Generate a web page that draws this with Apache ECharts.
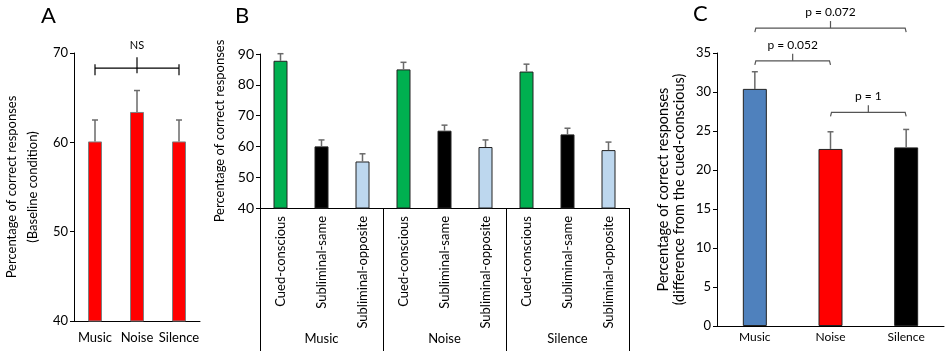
<!DOCTYPE html>
<html>
<head>
<meta charset="utf-8">
<script src="https://cdn.jsdelivr.net/npm/echarts@6/dist/echarts.min.js"></script>
<style>html,body{margin:0;padding:0;background:#fff;}#c{width:946px;height:351px;}</style>
</head>
<body>
<div id="c"></div>
<script>
// ---- Panel A data ----
const aCats = ['Music', 'Noise', 'Silence'];
const aValues = [60.1, 63.4, 60.1];
const aErrors = [2.4, 2.4, 2.4];
const aTicks = [40, 50, 60, 70];
const aBracketLevel = 68.3;
const aBracketText = 'NS';

// ---- Panel B data ----
const bConditions = ['Cued-conscious', 'Subliminal-same', 'Subliminal-opposite'];
const bGroups = ['Music', 'Noise', 'Silence'];
const bValues = [87.8, 60.0, 55.1, 85.0, 65.1, 59.8, 84.3, 63.9, 58.8];
const bErrors = [2.3, 2.1, 2.5, 2.3, 1.8, 2.3, 2.4, 2.0, 2.6];
const bTicks = [40, 50, 60, 70, 80, 90];

// ---- Panel C data ----
const cCats = ['Music', 'Noise', 'Silence'];
const cValues = [30.4, 22.7, 22.9];
const cErrors = [2.2, 2.2, 2.3];
const cTicks = [0, 5, 10, 15, 20, 25, 30, 35];
const bracketFrom = [0, 1, 0];
const bracketTo = [1, 2, 2];
const bracketLevel = [34.0, 27.4, 38.2];
const bracketText = ['p = 0.052', 'p = 1', 'p = 0.072'];

// ---- styles ----
const FONT = 'Lato, "Open Sans", sans-serif';
const bColors = ['#00B050', '#000000', '#BDD7EE'];
const cColors = ['#4F81BD', '#FF0000', '#000000'];
const ERR = '#6a6a6a';

const bCats = [];
bGroups.forEach(() => bConditions.forEach(c => bCats.push(c)));

function errRender(params, api) {
  const x = api.value(0), v = api.value(1), e = api.value(2);
  const p0 = api.coord([x, v]);
  const p1 = api.coord([x, v + e]);
  return {
    type: 'group',
    children: [
      { type: 'line', shape: { x1: p0[0], y1: p0[1], x2: p1[0], y2: p1[1] }, style: { stroke: ERR, lineWidth: 1.5 } },
      { type: 'line', shape: { x1: p1[0] - 3, y1: p1[1], x2: p1[0] + 3, y2: p1[1] }, style: { stroke: ERR, lineWidth: 1.5 } }
    ]
  };
}

function yAxisCommon(min, max, interval, gridIndex, fontSize) {
  return {
    type: 'value', gridIndex, min, max, interval,
    axisLine: { show: true, lineStyle: { color: '#000', width: 1 } },
    axisTick: { show: true, length: 4, lineStyle: { color: '#000' } },
    splitLine: { show: false },
    axisLabel: { color: '#000', fontSize, fontFamily: FONT, margin: 6 },
    nameLocation: 'middle', nameRotate: 90,
    nameTextStyle: { color: '#000', fontFamily: FONT }
  };
}

const chart = echarts.init(document.getElementById('c'), null, { renderer: 'canvas' });
const titleStyle = { fontFamily: FONT, fontSize: 22, fontWeight: 'normal', color: '#000' };

const option = {
  animation: false,
  backgroundColor: '#fff',
  title: [
    { text: 'A', left: 41, top: 5, padding: 0, textStyle: titleStyle },
    { text: 'B', left: 235, top: 5, padding: 0, textStyle: titleStyle },
    { text: 'C', left: 693, top: 3, padding: 0, textStyle: titleStyle }
  ],
  grid: [
    { left: 67, top: 53, width: 133, height: 268 },
    { left: 260, top: 54, width: 369, height: 154 },
    { left: 717, top: 53, width: 227, height: 273 }
  ],
  xAxis: [
    {
      type: 'category', gridIndex: 0, data: aCats,
      axisLine: { show: true, lineStyle: { color: '#000' } },
      axisTick: { show: false },
      axisLabel: { color: '#000', fontSize: 13, fontFamily: FONT, margin: 10, interval: 0, hideOverlap: false }
    },
    {
      type: 'category', gridIndex: 1, data: bCats,
      axisLine: { show: true, lineStyle: { color: '#000' } },
      axisTick: { show: false },
      axisLabel: { color: '#000', fontSize: 13, fontFamily: FONT, rotate: 90, margin: 8, interval: 0 }
    },
    {
      type: 'category', gridIndex: 1, data: bGroups, position: 'bottom',
      axisLine: { show: false },
      axisTick: { show: true, length: 143, alignWithLabel: false, lineStyle: { color: '#000' } },
      axisLabel: { color: '#000', fontSize: 13, fontFamily: FONT, margin: 124, interval: 0 }
    },
    {
      type: 'category', gridIndex: 2, data: cCats,
      axisLine: { show: true, lineStyle: { color: '#000' } },
      axisTick: { show: false },
      axisLabel: { color: '#000', fontSize: 12, fontFamily: FONT, margin: 5, interval: 0 }
    }
  ],
  yAxis: [
    Object.assign(yAxisCommon(aTicks[0], aTicks[aTicks.length - 1], 10, 0, 13), {
      name: 'Percentage of correct responses\n(Baseline condition)', nameGap: 31,
      nameTextStyle: { color: '#000', fontFamily: FONT, fontSize: 13, lineHeight: 21 }
    }),
    Object.assign(yAxisCommon(bTicks[0], bTicks[bTicks.length - 1], 10, 1, 14), {
      name: 'Percentage of correct responses', nameGap: 34,
      nameTextStyle: { color: '#000', fontFamily: FONT, fontSize: 13 }
    }),
    Object.assign(yAxisCommon(cTicks[0], cTicks[cTicks.length - 1], 5, 2, 13), {
      name: 'Percentage of correct responses\n(difference from the cued-conscious)', nameGap: 30,
      nameTextStyle: { color: '#000', fontFamily: FONT, fontSize: 14.5, lineHeight: 16 }
    })
  ],
  series: [
    // Panel A
    {
      type: 'bar', xAxisIndex: 0, yAxisIndex: 0, barWidth: 14, data: aValues,
      itemStyle: { color: '#FF0000', borderColor: '#7f7f7f', borderWidth: 1 }
    },
    {
      type: 'custom', xAxisIndex: 0, yAxisIndex: 0, z: 3,
      data: aValues.map((v, i) => [i, v, aErrors[i]]), renderItem: errRender
    },
    {
      type: 'custom', xAxisIndex: 0, yAxisIndex: 0, z: 4, clip: false,
      data: [[0, 2, aBracketLevel, aBracketText]],
      renderItem: function (params, api) {
        const lv = api.value(2);
        const p0 = api.coord([api.value(0), lv]);
        const p1 = api.coord([api.value(1), lv]);
        const xc = (p0[0] + p1[0]) / 2, y = p0[1];
        const st = { stroke: '#000', lineWidth: 1.2 };
        return {
          type: 'group', children: [
            { type: 'line', shape: { x1: p0[0], y1: y, x2: p1[0], y2: y }, style: st },
            { type: 'line', shape: { x1: p0[0], y1: y - 4, x2: p0[0], y2: y + 7 }, style: st },
            { type: 'line', shape: { x1: p1[0], y1: y - 4, x2: p1[0], y2: y + 7 }, style: st },
            { type: 'line', shape: { x1: xc, y1: y - 11, x2: xc, y2: y + 5 }, style: st },
            { type: 'text', style: { text: api.value(3), x: xc, y: y - 23, align: 'center', verticalAlign: 'middle', fontSize: 11, fontFamily: FONT, fill: '#000' } }
          ]
        };
      }
    },
    // Panel B
    {
      type: 'bar', xAxisIndex: 1, yAxisIndex: 1, barWidth: 14,
      data: bValues.map((v, i) => ({ value: v, itemStyle: { color: bColors[i % 3] } })),
      itemStyle: { borderColor: '#222', borderWidth: 1 }
    },
    {
      type: 'custom', xAxisIndex: 1, yAxisIndex: 1, z: 3,
      data: bValues.map((v, i) => [i, v, bErrors[i]]), renderItem: errRender
    },
    // Panel C
    {
      type: 'bar', xAxisIndex: 3, yAxisIndex: 2, barWidth: 24,
      data: cValues.map((v, i) => ({ value: v, itemStyle: { color: cColors[i] } })),
      itemStyle: { borderColor: '#222', borderWidth: 1 }
    },
    {
      type: 'custom', xAxisIndex: 3, yAxisIndex: 2, z: 3,
      data: cValues.map((v, i) => [i, v, cErrors[i]]), renderItem: errRender
    },
    {
      type: 'custom', xAxisIndex: 3, yAxisIndex: 2, z: 4, clip: false,
      data: bracketLevel.map((lv, i) => [bracketFrom[i], bracketTo[i], lv, bracketText[i]]),
      renderItem: function (params, api) {
        const lv = api.value(2);
        const p0 = api.coord([api.value(0), lv]);
        const p1 = api.coord([api.value(1), lv]);
        const xc = (p0[0] + p1[0]) / 2, y = p0[1];
        const st = { stroke: '#555', lineWidth: 1.2, fill: null };
        return {
          type: 'group', children: [
            { type: 'polyline', shape: { points: [[p0[0], y + 4], [p0[0] + 1, y], [p1[0] - 1, y], [p1[0], y + 4]] }, style: st },
            { type: 'line', shape: { x1: xc, y1: y, x2: xc, y2: y - 7 }, style: st },
            { type: 'text', style: { text: api.value(3), x: xc, y: y - 16, align: 'center', verticalAlign: 'middle', fontSize: 12, fontFamily: FONT, fill: '#000' } }
          ]
        };
      }
    }
  ]
};
chart.setOption(option);
</script>
</body>
</html>
